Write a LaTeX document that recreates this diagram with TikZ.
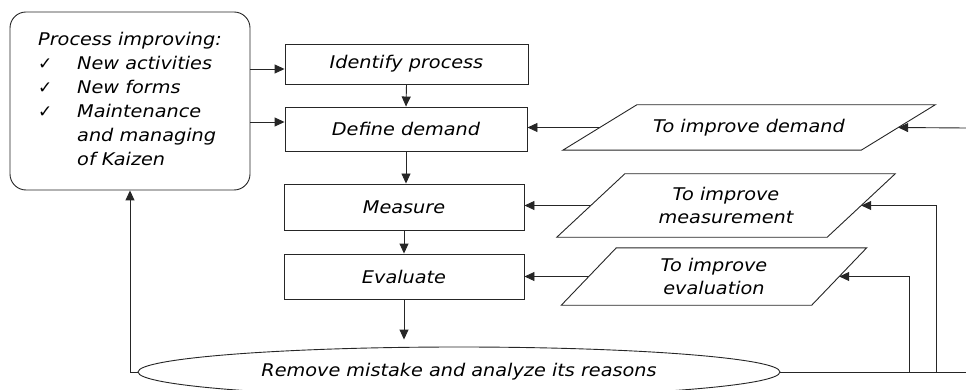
\documentclass[tikz,border=0pt]{standalone}
\usepackage{fontspec}
\setmainfont{DejaVu Sans}[FakeStretch=1.1]
\newfontfamily\symfont{DejaVu Sans}
\usetikzlibrary{shapes.geometric,arrows.meta}
\newcommand\slantbox[2]{\draw[line] ([xshift=#2]#1.north west) -- ([xshift=#2]#1.north east) -- ([xshift=-#2]#1.south east) -- ([xshift=-#2]#1.south west) -- cycle;}
\newcommand\chk{\makebox[39pt][l]{\symfont\fontsize{17}{24}\selectfont ✓}}
\begin{document}
\begin{tikzpicture}[x=1pt,y=-1pt,
  every node/.style={font=\fontsize{17.5}{23.5}\selectfont\itshape, inner sep=0pt},
  line/.style={draw=black!85, line width=0.9pt},
  stepbox/.style={line, rectangle, minimum width=242pt, minimum height=44pt},
  arr/.style={draw=black!85, line width=0.9pt, -{Triangle[length=10pt,width=9pt]}},
  ]
\useasboundingbox (0,0) rectangle (966,390);
% left rounded box
\node[line, rounded corners=16pt, minimum width=240pt, minimum height=178pt] (proc) at (130,101)
  {\raisebox{3pt}{\fontsize{17.5}{24}\selectfont\begin{tabular}{@{}l@{}l@{}}
   \multicolumn{2}{@{}l@{}}{Process improving:}\\
   \chk & New activities\\
   \chk & New forms\\
   \chk & Maintenance\\
        & and managing\\
        & of Kaizen
   \end{tabular}}\hspace{10pt}};
% main steps
\node[stepbox, minimum width=243pt, minimum height=40pt] (identify) at (406.5,64) {Identify process};
\node[stepbox] (define) at (406,129) {Define demand};
\node[stepbox, minimum width=240pt, minimum height=46pt] (measure) at (404,207) {Measure};
\node[stepbox, minimum width=240pt, minimum height=45pt] (evaluate) at (404,276.5) {Evaluate};
% ellipse
\node[line, ellipse, minimum width=642pt, minimum height=50pt] (remove) at (459,372) {Remove mistake and analyze its reasons};
% parallelograms
\node[align=center, minimum width=298pt, minimum height=45pt] (imp1) at (749,127.5) {To improve demand};
\node[align=center, minimum width=270pt, minimum height=63pt] (imp2) at (726,205.5) {To improve\\measurement};
\node[align=center, minimum width=250pt, minimum height=57pt] (imp3) at (714,276.5) {To improve\\evaluation};
\slantbox{imp1}{37pt}
\slantbox{imp2}{34pt}
\slantbox{imp3}{27.5pt}
% connectors
\coordinate (a1) at ([yshift=-5pt]identify.west);
\coordinate (a2) at ([yshift=7pt]define.west);
\draw[arr] (proc.east |- a1) -- (a1);
\draw[arr] (proc.east |- a2) -- (a2);
\draw[arr] (identify.south) -- (define.north);
\draw[arr] (define.south) -- (define.south |- measure.north);
\draw[arr] (measure.south) -- (evaluate.north);
\coordinate (etop) at (evaluate.south |- remove.north);
\draw[arr] (evaluate.south) -- ([yshift=7pt]etop);
\draw[arr] (remove.west) -| (proc.south);
\draw[arr] (imp1.west) -- (imp1.west -| define.east);
\draw[arr] (imp2.west) -- (imp2.west -| measure.east);
\draw[arr] (imp3.west) -- (imp3.west -| evaluate.east);
\coordinate (edgeA) at (966,128);
\coordinate (edgeB) at (966,372);
\coordinate (c2) at (936,372);
\coordinate (c3) at (909,372);
\draw[line] (remove.east) -- (edgeB);
\draw[arr] (edgeA) -- (imp1.east);
\draw[arr] (c2) |- (imp2.east);
\draw[arr] (c3) |- (imp3.east);
\end{tikzpicture}
\end{document}
